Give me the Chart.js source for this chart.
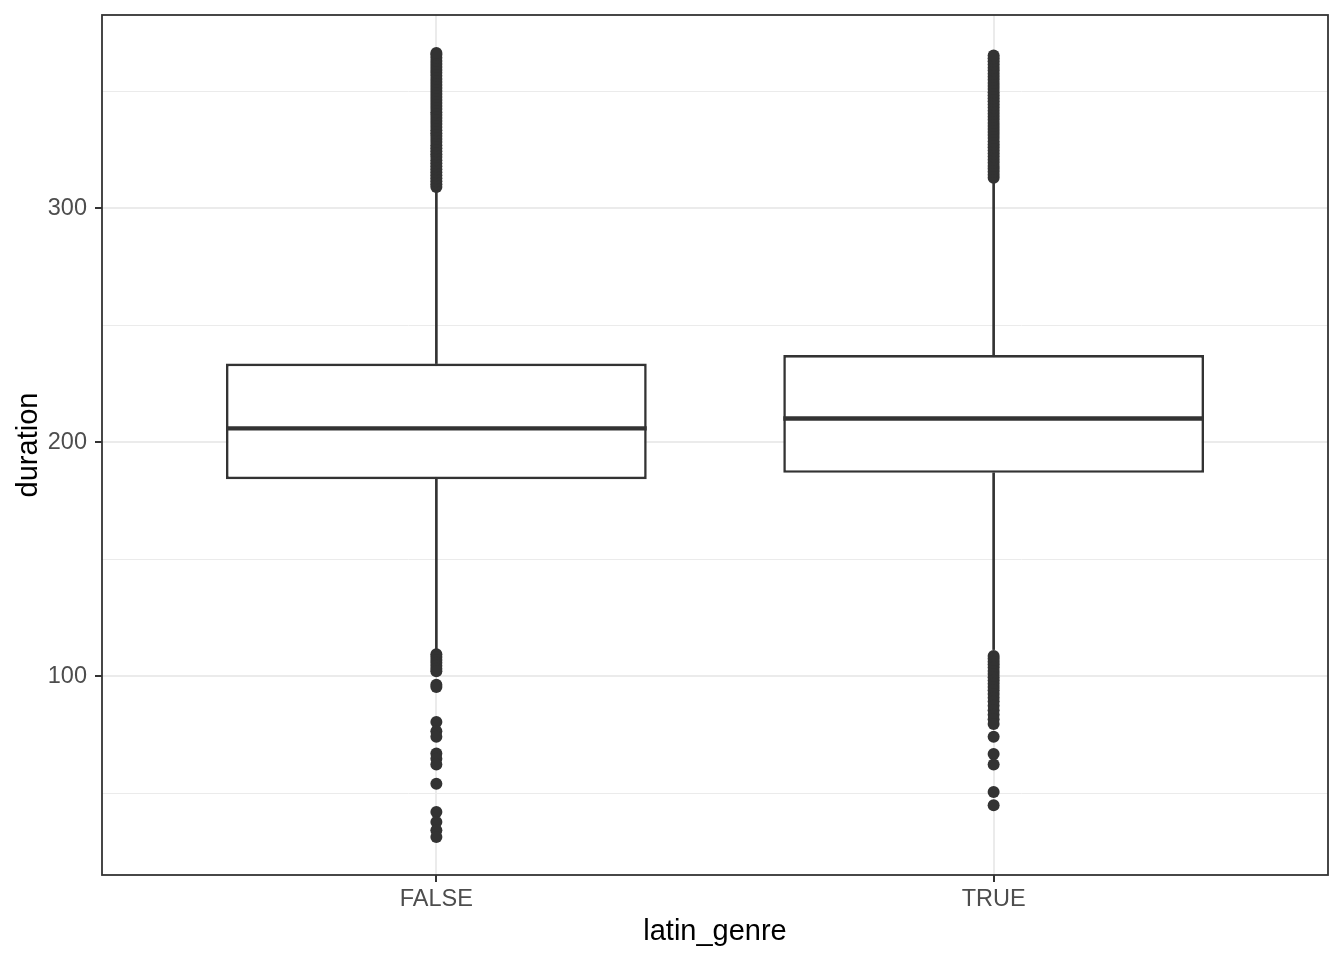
<!DOCTYPE html>
<html>
<head>
<meta charset="utf-8">
<script src="https://cdn.jsdelivr.net/npm/chart.js@4.4.1/dist/chart.umd.min.js"></script>
<style>
  html, body { margin: 0; padding: 0; background: #ffffff; }
  #wrap { width: 1344px; height: 960px; }
</style>
</head>
<body>
<div id="wrap"><canvas id="boxChart"></canvas></div>
<script>
// latin_genre groups and their box statistics
const groups = ['FALSE', 'TRUE'];
const groupPos = [1, 2];
const q1 = [184.2, 186.9];
const medians = [205.9, 210.1];
const q3 = [233.6, 237.2];
const whiskerLow = [110.1, 111.4];
const whiskerHigh = [308.5, 312.5];

const outliersFalse = [
    309, 310.2, 311.5, 312.8, 314, 315.3, 316.6, 317.9, 319.2, 320.5, 321.8, 323, 324.3,
    325.6, 326.9, 328.2, 329.5, 330.8, 332, 333.3, 334.6, 335.9, 337.2, 338.5, 339.8,
    341, 342.3, 343.6, 344.9, 346.2, 347.5, 348.8, 350, 351.3, 352.6, 353.9, 355.2,
    356.5, 357.8, 359, 360.3, 361.6, 362.9, 364.2, 365.5, 366.3,
    109.4, 108.2, 107, 105.8, 104.5, 103.2, 102.1, 96.4, 95.4, 80.5, 76.5, 74.2,
    67, 64.8, 62.3, 54.1, 42, 37.7, 34.2, 31.3
];
const outliersTrue = [
    313, 314.2, 315.5, 316.8, 318, 319.4, 320.7, 322, 323.3, 324.6, 326, 327.2, 328.5,
    329.9, 331.2, 332.5, 333.8, 335.1, 336.4, 337.8, 339, 340.3, 341.6, 343, 344.3,
    345.6, 346.9, 348.2, 349.5, 350.9, 352.2, 353.5, 354.8, 356.1, 357.4, 358.8, 360,
    361.4, 362.7, 364, 365.2,
    108.7, 107.5, 106.2, 105, 103.7, 102.3, 101, 99.6, 98.2, 96.8, 95.4, 94, 92.4,
    90.8, 89.2, 87.4, 85.5, 83.6, 81.6, 79.6, 74.2, 66.8, 62.3, 50.6, 44.9
];

const yTicks = [50, 100, 150, 200, 250, 300, 350];
const yMin = 15.1;
const yMax = 382.5;

const dark = '#333333';
const gridCol = '#ebebeb';
const fontFamily = "'Liberation Sans', Arial, sans-serif";

// floating bar helper: {x, y:[lo, hi]}
function spans(lo, hi) {
    return groupPos.map((x, i) => ({ x: x, y: [lo[i], hi[i]] }));
}

const points = [];
outliersFalse.forEach(v => points.push({ x: groupPos[0], y: v }));
outliersTrue.forEach(v => points.push({ x: groupPos[1], y: v }));

// median line across each box, placed with the y scale
const medianLines = {
    id: 'medianLines',
    afterDatasetsDraw(chart) {
        const { ctx } = chart;
        const yScale = chart.scales.y;
        const boxes = chart.getDatasetMeta(1).data;
        ctx.save();
        ctx.strokeStyle = dark;
        ctx.lineWidth = 4.4;
        boxes.forEach((bar, i) => {
            const y = yScale.getPixelForValue(medians[i]);
            ctx.beginPath();
            ctx.moveTo(bar.x - bar.width / 2, y);
            ctx.lineTo(bar.x + bar.width / 2, y);
            ctx.stroke();
        });
        ctx.restore();
    }
};

const panelBorder = {
    id: 'panelBorder',
    afterDatasetsDraw(chart) {
        const { ctx, chartArea } = chart;
        ctx.save();
        ctx.strokeStyle = dark;
        ctx.lineWidth = 1.8;
        ctx.strokeRect(chartArea.left, chartArea.top, chartArea.right - chartArea.left, chartArea.bottom - chartArea.top);
        ctx.restore();
    }
};

new Chart(document.getElementById('boxChart'), {
    type: 'bar',
    data: {
        datasets: [
            {
                type: 'scatter',
                label: 'outliers',
                data: points,
                pointRadius: 6,
                pointBackgroundColor: dark,
                pointBorderWidth: 0,
                pointHoverRadius: 6
            },
            {
                type: 'bar',
                label: 'box',
                data: spans(q1, q3),
                grouped: false,
                categoryPercentage: 1,
                barPercentage: 0.755,
                backgroundColor: '#ffffff',
                borderColor: dark,
                borderWidth: 2.6,
                borderSkipped: false,
                inflateAmount: 0
            },
            {
                type: 'bar',
                label: 'lower whisker',
                data: spans(whiskerLow, q1),
                grouped: false,
                barThickness: 2,
                backgroundColor: dark,
                borderWidth: 0
            },
            {
                type: 'bar',
                label: 'upper whisker',
                data: spans(q3, whiskerHigh),
                grouped: false,
                barThickness: 2,
                backgroundColor: dark,
                borderWidth: 0
            }
        ]
    },
    options: {
        responsive: true,
        maintainAspectRatio: false,
        animation: false,
        events: [],
        layout: {
            padding: { top: 15, right: 16, bottom: 0, left: 0 }
        },
        plugins: {
            legend: { display: false },
            tooltip: { enabled: false }
        },
        scales: {
            x: {
                type: 'linear',
                offset: false,
                min: 0.4,
                max: 2.6,
                afterBuildTicks: (scale) => { scale.ticks = groupPos.map(v => ({ value: v })); },
                afterFit: (scale) => {
                    scale.height = 85;
                    scale.paddingLeft = 0;
                    scale.paddingRight = 0;
                },
                border: { display: false },
                grid: {
                    offset: false,
                    color: gridCol,
                    lineWidth: 2,
                    tickColor: dark,
                    tickWidth: 2,
                    tickLength: 7
                },
                ticks: {
                    padding: 3,
                    color: '#4d4d4d',
                    font: { family: fontFamily, size: 23.5 },
                    callback: (v) => groups[groupPos.indexOf(v)]
                },
                title: {
                    display: true,
                    text: 'latin_genre',
                    color: '#000000',
                    font: { family: fontFamily, size: 29 },
                    padding: { top: 0, bottom: 11 }
                }
            },
            y: {
                type: 'linear',
                min: yMin,
                max: yMax,
                afterBuildTicks: (scale) => { scale.ticks = yTicks.map(v => ({ value: v })); },
                afterFit: (scale) => {
                    scale.width = 102;
                    scale.paddingTop = 0;
                    scale.paddingBottom = 0;
                },
                border: { display: false },
                grid: {
                    color: gridCol,
                    lineWidth: (ctx) => (ctx.tick && ctx.tick.value % 100 === 0 ? 2 : 1),
                    tickColor: (ctx) => (ctx.tick && ctx.tick.value % 100 === 0 ? dark : 'rgba(0,0,0,0)'),
                    tickWidth: 2,
                    tickLength: 7
                },
                ticks: {
                    padding: 8,
                    color: '#4d4d4d',
                    font: { family: fontFamily, size: 23.5 },
                    callback: (v) => (v % 100 === 0 ? String(v) : '')
                },
                title: {
                    display: true,
                    text: 'duration',
                    color: '#000000',
                    font: { family: fontFamily, size: 29 },
                    padding: { top: 12, bottom: 0 }
                }
            }
        }
    },
    plugins: [medianLines, panelBorder]
});
</script>
</body>
</html>
